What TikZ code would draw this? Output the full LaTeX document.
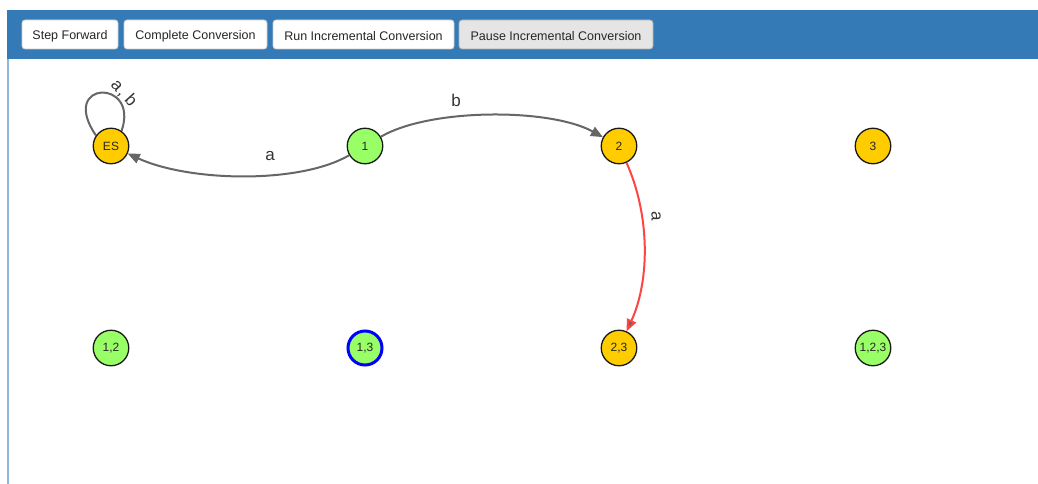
\documentclass[tikz,border=0pt]{standalone}
\usepackage{fontspec}
\setmainfont{Liberation Sans}
\usetikzlibrary{arrows.meta}
\definecolor{band}{HTML}{337AB7}
\definecolor{bord}{HTML}{8DB7DC}
\definecolor{ylw}{HTML}{FFCC00}
\definecolor{grn}{HTML}{99FF66}
\definecolor{edg}{HTML}{666666}
\definecolor{redg}{HTML}{FF4444}
\tikzset{
  btn/.style={draw=black!20, fill=white, rounded corners=3pt, line width=0.8pt},
  btnpressed/.style={draw=black!32, fill=black!10, rounded corners=3pt, line width=0.8pt},
  btntext/.style={font=\fontsize{12.5}{14}\selectfont, text=black!85},
  st/.style={circle, draw=black!90, line width=1.3pt, minimum size=35.5pt, inner sep=0pt, font=\fontsize{12}{14}\selectfont, text=black!85},
  ys/.style={st, fill=ylw},
  gs/.style={st, fill=grn},
  tr/.style={draw=edg, line width=2pt, -{Triangle[length=12pt,width=10pt,fill=edg]}},
  lab/.style={font=\fontsize{17}{19}\selectfont, text=black!80}
}
\begin{document}
\begin{tikzpicture}[x=1pt,y=1pt]
\useasboundingbox (0,0) rectangle (1038,-484);
\fill[white] (0,0) rectangle (1038,-484);
% header band and frame
\fill[band] (7,-10) rectangle (1038,-59);
\fill[bord] (7,-59) rectangle (9,-484);
% buttons
\draw[btn] (22,-20) rectangle (118,-49);
\node[btntext] (b1) at (70,-36) {Step Forward};
\draw[btn] (124,-20) rectangle (267,-49);
\node[btntext] (b2) at (195.5,-36) {Complete Conversion};
\draw[btn] (273,-20) rectangle (454,-49);
\node[btntext] (b3) at (363.5,-36) {Run Incremental Conversion};
\draw[btnpressed] (459,-20) rectangle (653,-49);
\node[btntext] (b4) at (556,-36) {Pause Incremental Conversion};
% self loop control points
\coordinate (lc1) at (58,-80);
\coordinate (lc2) at (140,-78);
% states
\node[ys] (ES) at (111,-146) {ES};
\node[gs] (s1) at (365,-146) {1};
\node[ys] (s2) at (619,-146) {2};
\node[ys] (s3) at (873,-146) {3};
\node[gs] (s12) at (111,-348) {1,2};
\node[gs, draw=blue, line width=3pt, minimum size=34pt] (s13) at (365,-348) {1,3};
\node[ys] (s23) at (619,-348) {2,3};
\node[gs] (s123) at (873,-348) {1,2,3};
% transitions
\draw[draw=edg, line width=2pt] (ES.145) .. controls (lc1) and (lc2) .. (ES.55);
\node[lab, rotate=-48] (lab0) at (124,-93) {a\hspace{1.5pt},\hspace{5pt}b};
\draw[tr] (s1) .. controls (300,-184) and (190,-182) .. (ES);
\node[lab] (lab1) at (270,-156) {a};
\draw[tr] (s1) .. controls (430,-108) and (550,-108) .. (s2);
\node[lab] (lab2) at (456,-100) {b};
\draw[tr, draw=redg] (s2) .. controls (650,-215) and (650,-280) .. (s23);
\node[lab, rotate=-90] (lab3) at (656,-216) {a};
\end{tikzpicture}
\end{document}
